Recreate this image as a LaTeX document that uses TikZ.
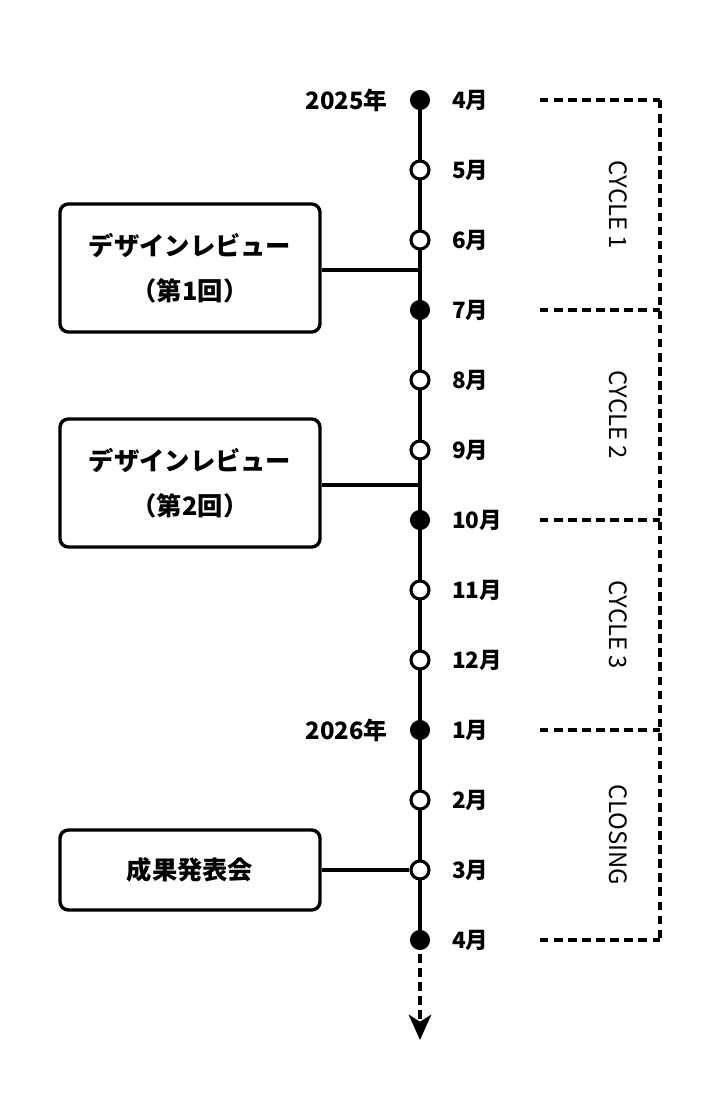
\documentclass[tikz,border=0pt]{standalone}
\usepackage{fontspec}
\setmainfont{Noto Sans CJK JP}
\usetikzlibrary{positioning, arrows.meta, calc}

\tikzset{
  px/.style={x=0.025cm, y=-0.025cm},
  fulldot/.style={circle, fill=black, draw=black, line width=1.5pt, inner sep=0pt, minimum size=0.45cm},
  opendot/.style={circle, fill=white, draw=black, line width=2.2pt, inner sep=0pt, minimum size=0.45cm},
  month/.style={right, font=\fontsize{16}{18}\selectfont\bfseries, inner sep=0pt},
  year/.style={left, font=\fontsize{17}{18}\selectfont\bfseries, inner sep=0pt},
  event/.style={draw, rounded corners=6pt, line width=2.4pt, align=center, minimum width=6.5cm, font=\fontsize{18}{32}\selectfont\bfseries},
  cycle/.style={rotate=-90, font=\fontsize{17}{18}\selectfont},
  bracket/.style={line width=2.6pt, dash pattern=on 6pt off 4pt},
}

\begin{document}
\begin{tikzpicture}[px]
  \useasboundingbox (0,0) rectangle (720,1120);

  % main axis
  \coordinate (end) at (420,1040);
  \draw[line width=2.6pt] (420,100) -- (420,940);
  \draw[bracket, -{Stealth[length=18pt, width=16pt, inset=5pt]}] (420,940) -- (end);

  % months
  \foreach \i/\m/\s in {0/4/fulldot, 1/5/opendot, 2/6/opendot, 3/7/fulldot, 4/8/opendot,
                        5/9/opendot, 6/10/fulldot, 7/11/opendot, 8/12/opendot, 9/1/fulldot,
                        10/2/opendot, 11/3/opendot, 12/4/fulldot} {
    \node[\s] (d\i) at (420,100+70*\i) {};
    \node[month] (m\i) at (452,100+70*\i) {\m 月};
  }
  \node[year] (y1) at (388,100) {2025年};
  \node[year] (y2) at (388,730) {2026年};

  % events
  \node[event, minimum height=3.2cm] (ev1) at (190,268) {デザインレビュー\\（第1回）};
  \node[event, minimum height=3.2cm] (ev2) at (190,483) {デザインレビュー\\（第2回）};
  \node[event, minimum height=2cm] (ev3) at (190,870) {成果発表会};
  \coordinate (c1) at (420,270);
  \coordinate (c2) at (420,485);
  \draw[line width=2.4pt] (ev1.east |- c1) -- (c1);
  \draw[line width=2.4pt] (ev2.east |- c2) -- (c2);
  \draw[line width=2.4pt] (ev3.east) -- (d11);

  % cycles
  \foreach \i/\y in {0/100, 1/310, 2/520, 3/730, 4/940} {
    \coordinate (b\i) at (660,\y);
    \draw[bracket] (540,\y) -- (b\i);
  }
  \draw[bracket] (b0) -- (b4);
  \node[cycle] (cy1) at (618,205) {CYCLE 1};
  \node[cycle] (cy2) at (618,415) {CYCLE 2};
  \node[cycle] (cy3) at (618,625) {CYCLE 3};
  \node[cycle] (cy4) at (618,835) {CLOSING};
\end{tikzpicture}
\end{document}
